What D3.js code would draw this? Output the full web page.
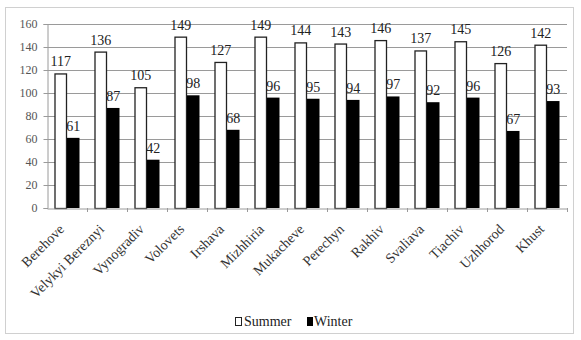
<!DOCTYPE html>
<html><head><meta charset="utf-8">
<script src="https://cdn.jsdelivr.net/npm/d3@7"></script>
<style>body{margin:0;background:#fff}svg{display:block}text{font-family:"Liberation Serif","Times New Roman",serif}</style>
</head><body><svg id="c" width="581" height="340"></svg>
<script>
const categories=["Berehove","Velykyi Bereznyi","Vynogradiv","Volovets","Irshava","Mizhhiria","Mukacheve","Perechyn","Rakhiv","Svaliava","Tiachiv","Uzhhorod","Khust"];
const summer=[117,136,105,149,127,149,144,143,146,137,145,126,142];
const winter=[61,87,42,98,68,96,95,94,97,92,96,67,93];
const yTicks=[0,20,40,60,80,100,120,140,160];
const seriesNames=["Summer","Winter"];

const svg=d3.select("#c");
svg.append("rect").attr("x",5.5).attr("y",7.5).attr("width",568).attr("height",326).attr("fill","#fff").attr("stroke","#d0d0d0");
const x=d3.scaleBand().domain(categories).range([47,567]);
const y=d3.scaleLinear().domain([0,160]).range([208,24]);
const inner=d3.scaleBand().domain(seriesNames).range([0,x.bandwidth()]).paddingOuter(0.6);

// gridlines
svg.append("g").selectAll("line").data(yTicks.filter(d=>d>0)).join("line")
 .attr("x1",47).attr("x2",567).attr("y1",d=>Math.round(y(d))+0.5).attr("y2",d=>Math.round(y(d))+0.5)
 .attr("stroke","#9a9a9a").attr("stroke-width",1);

// y axis
const ya=svg.append("g").attr("transform","translate(47.5,0)").call(d3.axisLeft(y).tickValues(yTicks).tickSize(4).tickPadding(6));
ya.select(".domain").attr("stroke","#9a9a9a");
ya.selectAll(".tick line").attr("stroke","#9a9a9a");
ya.selectAll("text").attr("font-size",12).attr("fill","#555");

// bars
const g=svg.append("g");
const data=categories.map((c,i)=>({c,s:summer[i],w:winter[i]}));
g.selectAll(".s").data(data).join("rect")
 .attr("x",d=>x(d.c)+inner("Summer")+0.5).attr("y",d=>y(d.s)+0.5)
 .attr("width",inner.bandwidth()-1).attr("height",d=>y(0)-y(d.s))
 .attr("fill","#fff").attr("stroke","#222").attr("stroke-width",1.3);
g.selectAll(".w").data(data).join("rect")
 .attr("x",d=>x(d.c)+inner("Winter")).attr("y",d=>y(d.w))
 .attr("width",inner.bandwidth()).attr("height",d=>y(0)-y(d.w))
 .attr("fill","#000");

// x axis
const xa=svg.append("g").attr("transform","translate(0,208.5)").call(d3.axisBottom(x).tickSize(0).tickFormat(""));
xa.select(".domain").attr("stroke","#9a9a9a");
svg.append("g").selectAll("line").data(categories).join("line")
 .attr("x1",d=>Math.round(x(d)+x.bandwidth())+0.5).attr("x2",d=>Math.round(x(d)+x.bandwidth())+0.5)
 .attr("y1",208).attr("y2",212).attr("stroke","#9a9a9a");

// value labels
g.selectAll(".ls").data(data).join("text")
 .attr("x",d=>x(d.c)+inner("Summer")+inner.bandwidth()/2).attr("y",d=>y(d.s)-7)
 .attr("text-anchor","middle").attr("font-size",14).attr("fill","#222").text(d=>d.s);
g.selectAll(".lw").data(data).join("text")
 .attr("x",d=>x(d.c)+inner("Winter")+inner.bandwidth()/2).attr("y",d=>y(d.w)-7)
 .attr("text-anchor","middle").attr("font-size",14).attr("fill","#222").text(d=>d.w);

// category labels
svg.append("g").selectAll("text").data(categories).join("text")
 .attr("transform",d=>`translate(${x(d)+x.bandwidth()/2-2},${230}) rotate(-45)`)
 .attr("text-anchor","end").attr("font-size",14).attr("fill","#333").text(d=>d);

// legend
const lg=svg.append("g").attr("transform","translate(235,317)");
lg.append("rect").attr("x",0.5).attr("y",0.5).attr("width",6).attr("height",8).attr("fill","#fff").attr("stroke","#222");
lg.append("text").attr("x",9).attr("y",9).attr("font-size",14).attr("fill","#222").text(seriesNames[0]);
lg.append("rect").attr("x",72).attr("y",0).attr("width",6).attr("height",9).attr("fill","#000");
lg.append("text").attr("x",79).attr("y",9).attr("font-size",14).attr("fill","#222").text(seriesNames[1]);
</script></body></html>
